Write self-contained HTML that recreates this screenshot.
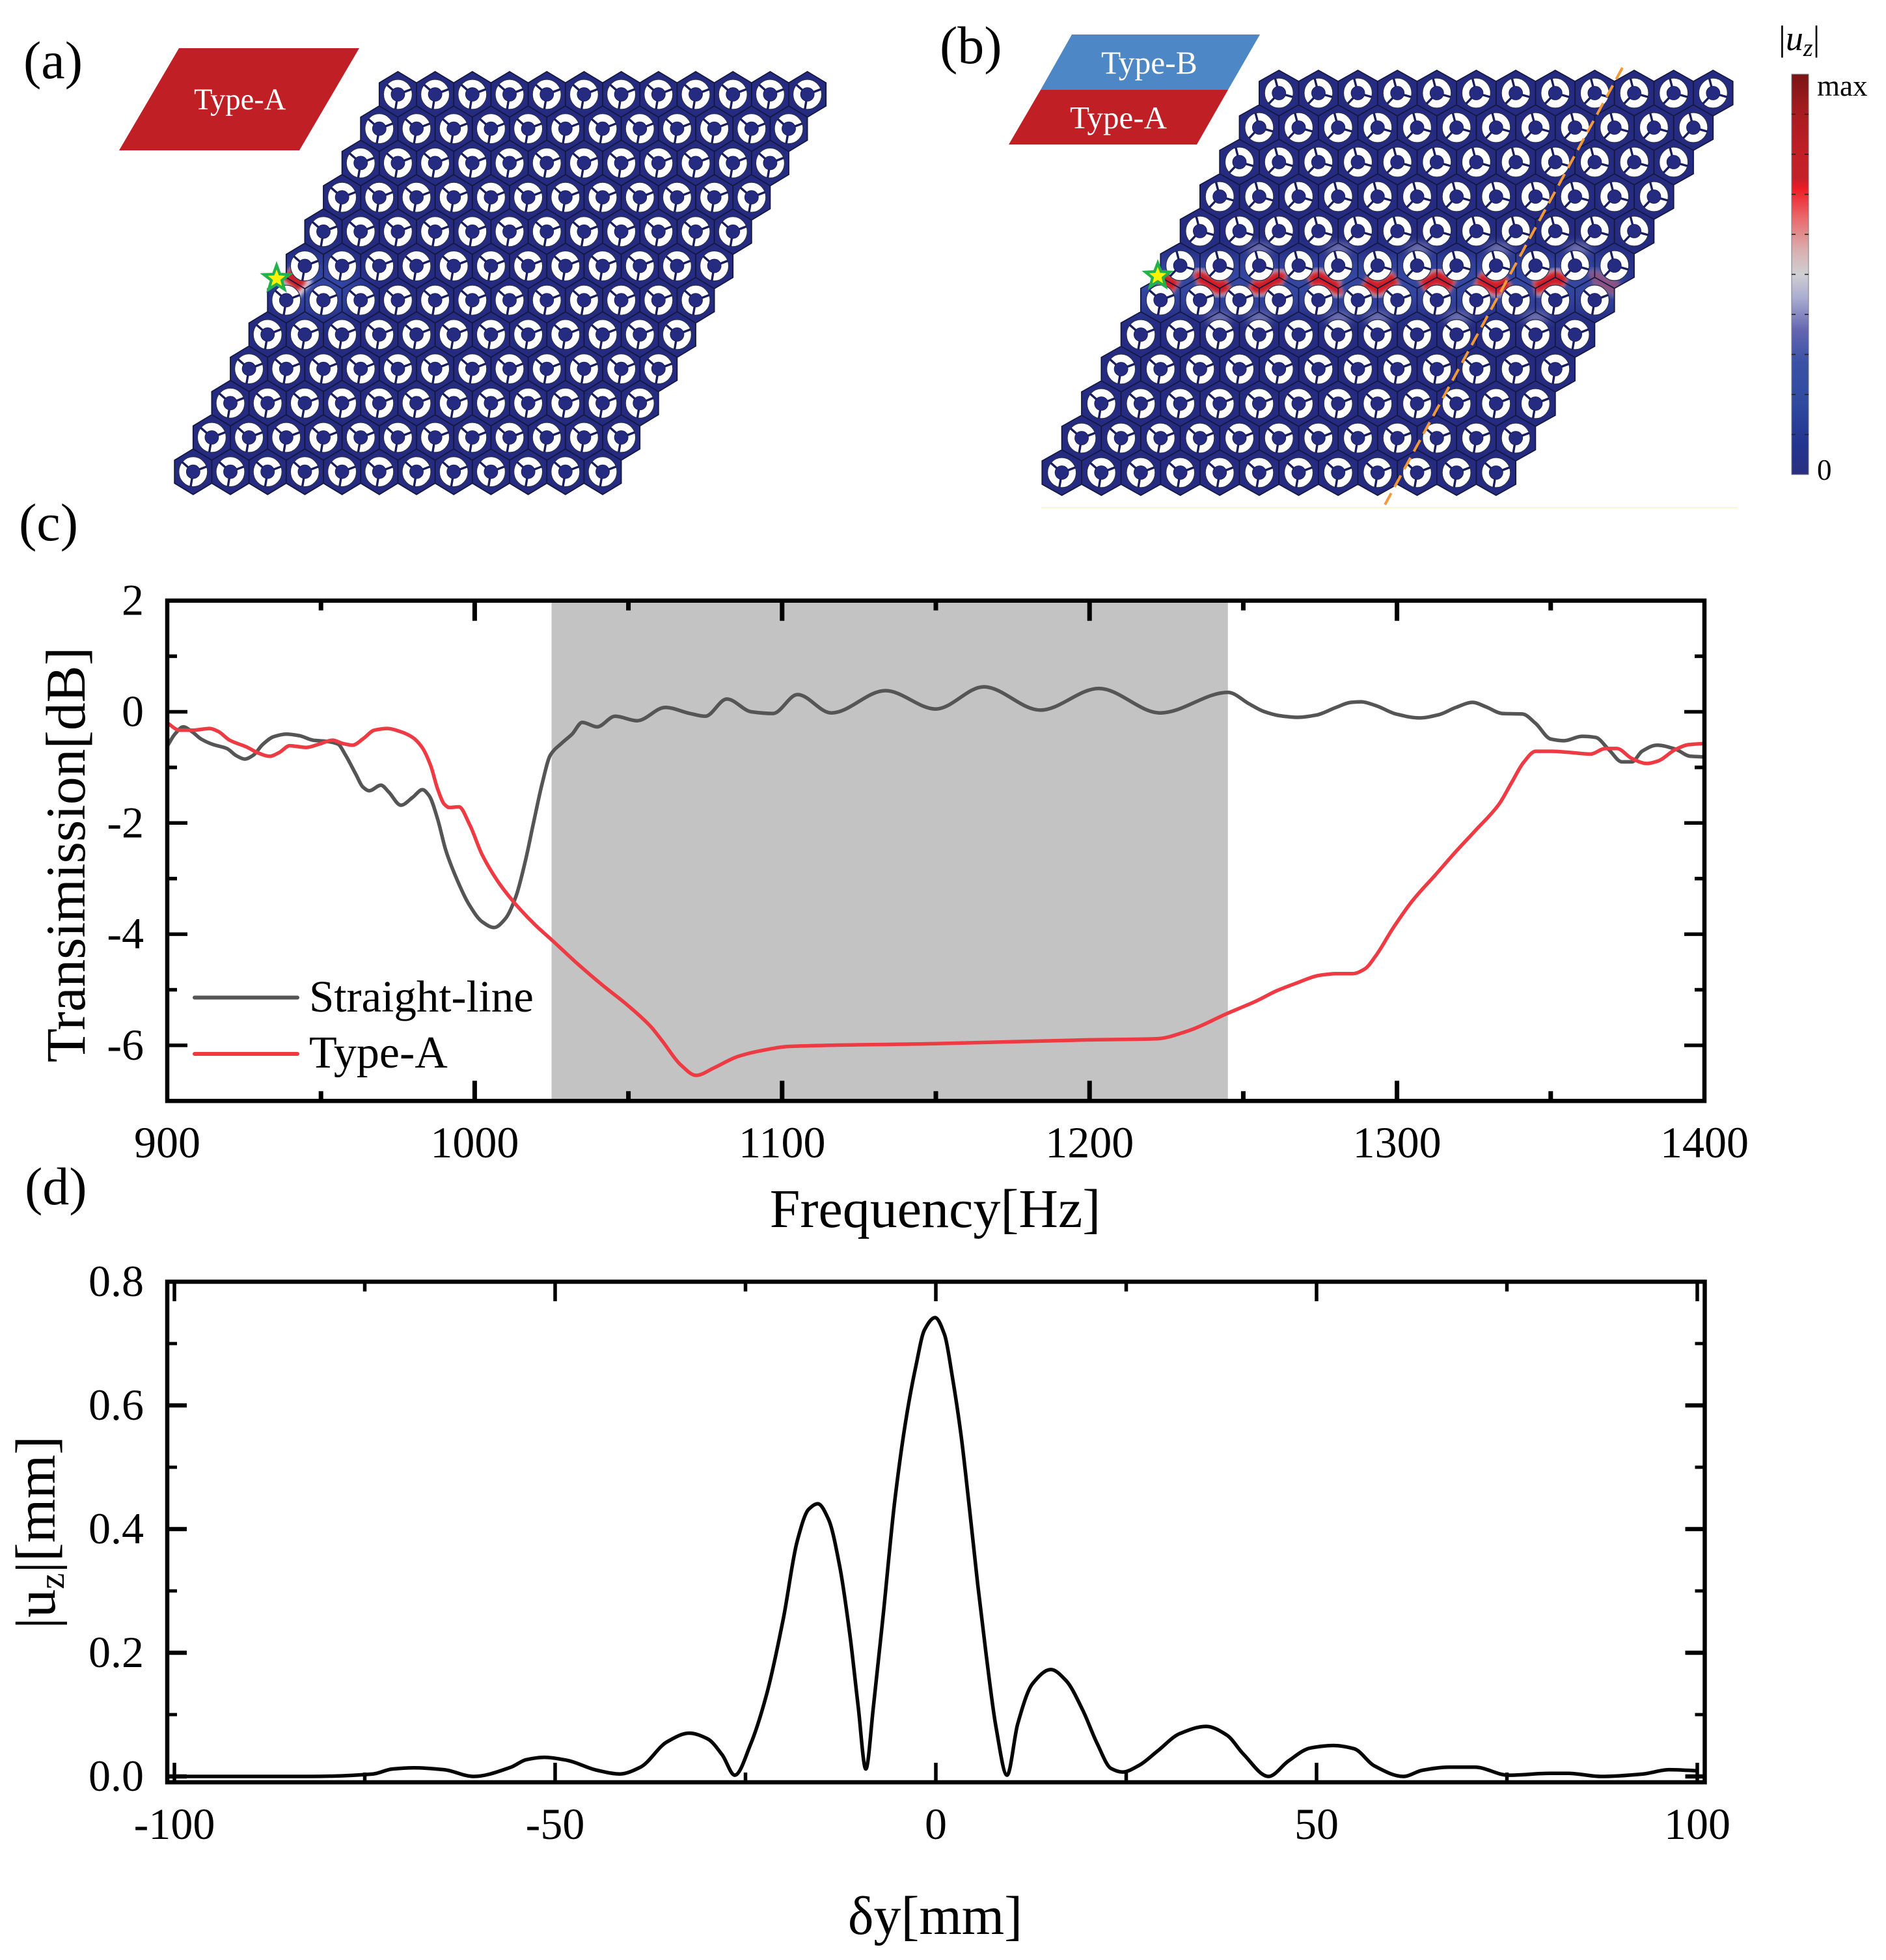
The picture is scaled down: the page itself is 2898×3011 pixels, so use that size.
<!DOCTYPE html>
<html lang="en">
<head>
<meta charset="utf-8">
<title>Type-A / Type-B lattice transmission chart</title>
<style>
html,body{margin:0;padding:0;background:#fff;}
svg{display:block;}
text{font-family:"Liberation Serif",serif;fill:#000;}
</style>
</head>
<body>
<svg id="figure" xmlns="http://www.w3.org/2000/svg" width="2898" height="3011" viewBox="0 0 2898 3011">
<defs>
<filter id="blurHot" x="-50%" y="-100%" width="200%" height="300%"><feGaussianBlur stdDeviation="3.2"/></filter>
<filter id="blurPale" x="-80%" y="-150%" width="260%" height="400%"><feGaussianBlur stdDeviation="7"/></filter>
<filter id="blurGlow" x="-30%" y="-100%" width="160%" height="300%"><feGaussianBlur stdDeviation="16"/></filter>
<linearGradient id="colorbarGrad" x1="0" y1="0" x2="0" y2="1">
<stop offset="0" stop-color="#7a1515"/><stop offset="0.1" stop-color="#a81c20"/><stop offset="0.2" stop-color="#c11f26"/>
<stop offset="0.26" stop-color="#c4202a"/><stop offset="0.285" stop-color="#ed1c24"/><stop offset="0.36" stop-color="#e96a6c"/>
<stop offset="0.44" stop-color="#d9afaf"/><stop offset="0.5" stop-color="#cfcfd2"/><stop offset="0.56" stop-color="#a9abd0"/>
<stop offset="0.64" stop-color="#6366b0"/><stop offset="0.72" stop-color="#3a52a6"/><stop offset="0.82" stop-color="#2f4a9f"/>
<stop offset="0.92" stop-color="#233590"/><stop offset="1" stop-color="#292f80"/>
</linearGradient>
</defs>

<text x="36" y="120" font-size="82">(a)</text>
<text x="1444" y="97" font-size="82">(b)</text>
<text x="29" y="830" font-size="82">(c)</text>
<text x="38" y="1850" font-size="82">(d)</text>

<g>
<polygon points="275,74 552,74 460,231 183,231" fill="#c11f26"/>
<text x="298" y="168" font-size="46.5" style="fill:#fff">Type-A</text>
</g>
<g>
<polygon points="1647,53 1936,53 1887,138 1599,138" fill="#4d87c5"/>
<polygon points="1599,138 1887,138 1839,222 1550,222" fill="#c11f26"/>
<text x="1692" y="113" font-size="49.5" style="fill:#fff">Type-B</text>
<text x="1644" y="197" font-size="49" style="fill:#fff">Type-A</text>
</g>

<g id="latticeA"></g>
<g id="latticeB"></g>

<line x1="1600" y1="780" x2="2670" y2="780" stroke="#fbf6d6" stroke-width="2"/>
<line x1="2493" y1="104" x2="2125" y2="781" stroke="#f29a3a" stroke-width="4" stroke-dasharray="20 11"/>

<g>
<rect x="2753" y="114" width="26" height="615" fill="url(#colorbarGrad)" stroke="#7b7b8a" stroke-width="1"/>
<g id="colorbarTicks"></g>
<text x="2733" y="77" font-size="54"><tspan>|</tspan><tspan font-style="italic">u</tspan><tspan font-style="italic" font-size="38" dy="9">z</tspan><tspan dy="-9">|</tspan></text>
<text x="2792" y="147" font-size="45">max</text>
<text x="2792" y="737" font-size="45">0</text>
</g>

<g id="chartC"></g>
<g id="chartD"></g>
</svg>

<script>
// ---------- Chart (c) data ----------
const grayFreq = [900,902.5,905.2,907.9,911,915,919.4,922.5,925.2,928,931,934.5,938.7,943,947.4,951.7,955.5,958,961.4,963.6,965.7,969.5,972,976,979.8,983,985.2,987.9,990.6,993.8,998.2,1002.5,1006.3,1010,1013.3,1016.5,1019.2,1022,1024.6,1028.4,1031.7,1035,1039.8,1045.7,1052.8,1062,1070,1075,1082,1090,1097,1105,1116,1133.6,1150,1165.6,1184,1203,1223,1245,1252,1256.5,1261.9,1267.8,1273.7,1280.2,1285,1288.3,1293.2,1299.7,1307.3,1313.7,1319.2,1324.6,1328.9,1334.3,1340.8,1345.1,1350,1354.3,1360.2,1364.6,1368.9,1373.2,1376.4,1379.7,1384.6,1390.5,1395.4,1400];
const grayDb = [-0.62,-0.4,-0.27,-0.35,-0.49,-0.59,-0.66,-0.79,-0.85,-0.78,-0.59,-0.45,-0.4,-0.43,-0.51,-0.53,-0.58,-0.78,-1.13,-1.35,-1.42,-1.32,-1.44,-1.68,-1.54,-1.4,-1.51,-1.92,-2.49,-2.96,-3.47,-3.78,-3.88,-3.72,-3.34,-2.68,-1.98,-1.28,-0.78,-0.56,-0.4,-0.19,-0.27,-0.08,-0.16,0.08,-0.03,-0.08,0.23,0,-0.03,0.31,-0.02,0.38,0.05,0.45,0.03,0.42,-0.02,0.35,0.14,0.01,-0.07,-0.1,-0.06,0.08,0.17,0.18,0.11,-0.04,-0.11,-0.05,0.08,0.17,0.09,-0.03,-0.04,-0.21,-0.49,-0.52,-0.44,-0.46,-0.68,-0.9,-0.9,-0.71,-0.6,-0.67,-0.8,-0.81];
const redFreq = [900,904,908.4,913.8,916.5,920.3,925.7,930,933.3,936.5,939.8,945.2,949.5,953.8,957.1,960.3,963.6,967.4,971.7,975.5,979.8,983,985.7,987.9,990.1,991.7,994.9,998.2,1002.5,1007.9,1013.3,1019.8,1025.2,1032.8,1041.4,1050,1057.4,1061,1067,1072,1078,1085.6,1093.7,1102,1150,1200,1222,1232,1245,1254.3,1260.8,1267.3,1274.8,1280.2,1285.6,1289.4,1293.2,1298.6,1305,1312.7,1319.2,1325.6,1333.2,1337.5,1341.3,1345.1,1350.5,1355.9,1362.9,1367.8,1371.5,1376.4,1381.3,1385.1,1390.5,1394.9,1400];
const redDb = [-0.2,-0.33,-0.33,-0.3,-0.35,-0.51,-0.63,-0.75,-0.8,-0.73,-0.61,-0.64,-0.58,-0.51,-0.57,-0.6,-0.49,-0.33,-0.3,-0.35,-0.46,-0.65,-0.97,-1.38,-1.66,-1.72,-1.71,-2.01,-2.58,-3.08,-3.46,-3.84,-4.11,-4.5,-4.91,-5.29,-5.67,-5.92,-6.35,-6.54,-6.4,-6.2,-6.09,-6.02,-5.97,-5.9,-5.88,-5.74,-5.42,-5.2,-5.02,-4.88,-4.74,-4.71,-4.71,-4.63,-4.38,-3.9,-3.4,-2.92,-2.51,-2.13,-1.66,-1.25,-0.9,-0.71,-0.71,-0.73,-0.76,-0.66,-0.66,-0.84,-0.93,-0.88,-0.68,-0.59,-0.57];
const cXTicks = ["900","1000","1100","1200","1300","1400"];
const cYTicks = ["2","0","-2","-4","-6"];
const cBand = [1025,1245];
const cLegendNames = ["Straight-line","Type-A"];

// ---------- Chart (d) data ----------
const offsetMm = [-100,-82.3,-73.9,-71.4,-68.5,-64.6,-60.7,-55.8,-53.8,-51.4,-48.4,-44.5,-41.5,-38.8,-35.3,-32.4,-30,-28.06,-26.4,-24.3,-22.2,-20,-18.2,-16.7,-15.5,-14.1,-12.6,-11.3,-10.2,-9.2,-8.2,-6.9,-5.4,-3.9,-2.6,-1.5,-0.1,1.15,2.2,3.3,4.4,5.5,6.6,7.9,9.35,10.75,12.7,15.1,17.1,19.3,21.2,23,24.5,26.7,29.1,32,35.5,38.2,40.4,43.7,46.3,49.2,52.2,54.9,57.6,61.4,63.9,67.4,70.8,75.2,80.6,83.1,87.3,92.9,96.3,100.2];
const uzMm = [0,0,0.004,0.012,0.014,0.011,0,0.015,0.027,0.031,0.026,0.01,0.004,0.015,0.056,0.07,0.061,0.035,0.002,0.053,0.134,0.257,0.381,0.432,0.441,0.416,0.338,0.23,0.113,0.012,0.113,0.263,0.445,0.579,0.665,0.722,0.742,0.714,0.644,0.553,0.435,0.311,0.198,0.08,0.002,0.085,0.15,0.173,0.155,0.107,0.053,0.013,0.007,0.018,0.041,0.069,0.081,0.067,0.036,0,0.025,0.046,0.05,0.045,0.017,0,0.01,0.015,0.015,0.002,0.005,0.005,0,0.004,0.011,0.009];
const dXTicks = ["-100","-50","0","50","100"];
const dYTicks = ["0.0","0.2","0.4","0.6","0.8"];

const NS = "http://www.w3.org/2000/svg";
function make(tag, parent, attrs){
  const el = document.createElementNS(NS, tag);
  for(const k in attrs) el.setAttribute(k, attrs[k]);
  parent.appendChild(el);
  return el;
}
// Monotone cubic interpolation through x-sorted points
function smooth(pts){
  const n=pts.length, h=[], s=[], m=[];
  for(let i=0;i<n-1;i++){
    h[i]=pts[i+1][0]-pts[i][0];
    s[i]=(pts[i+1][1]-pts[i][1])/h[i];
  }
  m[0]=s[0]; m[n-1]=s[n-2];
  for(let i=1;i<n-1;i++){
    if(s[i-1]*s[i]<=0){ m[i]=0; }
    else{
      const w1=2*h[i]+h[i-1], w2=h[i]+2*h[i-1];
      m[i]=(w1+w2)/(w1/s[i-1]+w2/s[i]);
    }
  }
  let d="M"+pts[0][0].toFixed(1)+" "+pts[0][1].toFixed(1);
  for(let i=0;i<n-1;i++){
    const c1x=pts[i][0]+h[i]/3, c1y=pts[i][1]+m[i]*h[i]/3;
    const c2x=pts[i+1][0]-h[i]/3, c2y=pts[i+1][1]-m[i+1]*h[i]/3;
    d+=" C"+c1x.toFixed(1)+" "+c1y.toFixed(1)+" "+c2x.toFixed(1)+" "+c2y.toFixed(1)+" "+pts[i+1][0].toFixed(1)+" "+pts[i+1][1].toFixed(1);
  }
  return d;
}

// ---------- Chart (c) ----------
(function(){
  const g = document.getElementById("chartC");
  const X = f => 257 + 4.724*(f-900);
  const Y = v => 1093.5 - 85.4*v;
  const left=X(900), right=X(1400), top=Y(2), bottom=Y(-7);

  const band = make("rect", g, {x:X(cBand[0]), y:top, width:X(cBand[1])-X(cBand[0]), height:bottom-top, fill:"#c3c3c3"});
  
  

  const grayPts = grayFreq.map((f,i)=>[X(f),Y(grayDb[i])]);
  const redPts = redFreq.map((f,i)=>[X(f),Y(redDb[i])]);
  const grayLine = make("path", g, {d:smooth(grayPts), fill:"none", stroke:"#555555", "stroke-width":5.5, "stroke-linejoin":"round"});
  
  
  const redLine = make("path", g, {d:smooth(redPts), fill:"none", stroke:"#ee3a43", "stroke-width":5.5, "stroke-linejoin":"round"});
  
  

  const frame = make("rect", g, {x:left, y:top, width:right-left, height:bottom-top, fill:"none", stroke:"#000", "stroke-width":6.5});
  
  

  for(let f=900; f<=1400; f+=50){
    const major = (f%100===0);
    const len = major?31:15;
    if(f===900||f===1400) continue;
    const t1 = make("line", g, {x1:X(f),x2:X(f),y1:bottom,y2:bottom-len,stroke:"#000","stroke-width":7});
    
    
    const t2 = make("line", g, {x1:X(f),x2:X(f),y1:top,y2:top+len,stroke:"#000","stroke-width":7});
    
    
  }
  for(let v=-6; v<=1; v+=1){
    const major = (v%2===0);
    const len = major?31:15;
    const t1 = make("line", g, {x1:left,x2:left+len,y1:Y(v),y2:Y(v),stroke:"#000","stroke-width":5.5});
    
    
    const t2 = make("line", g, {x1:right,x2:right-len,y1:Y(v),y2:Y(v),stroke:"#000","stroke-width":5.5});
    
    
  }
  cXTicks.forEach(function(s){
    const t = make("text", g, {x:X(+s), y:1778, "font-size":68, "text-anchor":"middle"});
    t.textContent = s;
    
    
  });
  cYTicks.forEach(function(s){
    const t = make("text", g, {x:221, y:Y(+s)+22, "font-size":68, "text-anchor":"end"});
    t.textContent = s;
    
    
  });
  const xt = make("text", g, {x:1437, y:1885, "font-size":84, "text-anchor":"middle"});
  xt.textContent = "Frequency[Hz]";
  
  
  const yt = make("text", g, {x:0, y:0, "font-size":85.5, "text-anchor":"middle", transform:"translate(130 1313) rotate(-90)"});
  yt.textContent = "Transimission[dB]";
  
  

  const l1 = make("line", g, {x1:299,x2:457,y1:1532.5,y2:1532.5,stroke:"#555555","stroke-width":6,"stroke-linecap":"round"});
  
  
  const l2 = make("line", g, {x1:299,x2:457,y1:1619,y2:1619,stroke:"#ee3a43","stroke-width":6,"stroke-linecap":"round"});
  
  
  const lt1 = make("text", g, {x:475, y:1554, "font-size":69});
  lt1.textContent = cLegendNames[0];
  
  
  const lt2 = make("text", g, {x:475, y:1640, "font-size":70});
  lt2.textContent = cLegendNames[1];
  
  
})();

// ---------- Chart (d) ----------
(function(){
  const g = document.getElementById("chartD");
  const X = d => 1438 + 11.7*d;
  const Y = u => 2729 - 950*u;
  const left=257, right=2619.5, top=Y(0.8), bottom=2738;

  const curve = make("path", g, {d:smooth(offsetMm.map((m,i)=>[X(m),Y(uzMm[i])])), fill:"none", stroke:"#050505", "stroke-width":5.5, "stroke-linejoin":"round"});
  
  

  const frame = make("rect", g, {x:left, y:top, width:right-left, height:bottom-top, fill:"none", stroke:"#000", "stroke-width":6.5});
  
  

  for(let m=-100; m<=100; m+=25){
    const major = (m%50===0);
    const len = major?30:15;
    const t1 = make("line", g, {x1:X(m),x2:X(m),y1:bottom,y2:bottom-len,stroke:"#000","stroke-width":5.5});
    
    
    const t2 = make("line", g, {x1:X(m),x2:X(m),y1:top,y2:top+len,stroke:"#000","stroke-width":5.5});
    
    
  }
  for(let k=0; k<=7; k+=1){
    const u = k/10;
    const major = (k%2===0);
    const len = major?30:15;
    const th = major?6.5:5;
    const t1 = make("line", g, {x1:left,x2:left+len,y1:Y(u),y2:Y(u),stroke:"#000","stroke-width":th});
    
    
    const t2 = make("line", g, {x1:right,x2:right-len,y1:Y(u),y2:Y(u),stroke:"#000","stroke-width":th});
    
    
  }
  dXTicks.forEach(function(s){
    const t = make("text", g, {x:X(+s), y:2825, "font-size":68, "text-anchor":"middle"});
    t.textContent = s;
    
    
  });
  dYTicks.forEach(function(s){
    const t = make("text", g, {x:221, y:Y(+s)+22, "font-size":68, "text-anchor":"end"});
    t.textContent = s;
    
    
  });
  const xt = make("text", g, {x:1437, y:2971, "font-size":84, "text-anchor":"middle"});
  xt.textContent = "δy[mm]";
  
  
  const yt = make("text", g, {x:0, y:0, "font-size":87, "text-anchor":"middle", transform:"translate(84 2354) rotate(-90)"});
  
  
  make("tspan", yt, {}).textContent = "|u";
  make("tspan", yt, {"font-size":56, dy:14}).textContent = "z";
  make("tspan", yt, {dy:-14}).textContent = "|[mm]";
})();

// ---------- Colorbar ticks ----------
(function(){
  const g = document.getElementById("colorbarTicks");
  for(let i=1;i<=9;i++){
    const y = 114 + i*61.5;
    const a = make("line", g, {x1:2753,x2:2759,y1:y,y2:y,stroke:"#222","stroke-width":1.6});
    
    
    const b = make("line", g, {x1:2773,x2:2779,y1:y,y2:y,stroke:"#222","stroke-width":1.6});
    
    
  }
})();

// ---------- Lattices ----------
function buildLattice(g, cfg){
  const RV=35, rows=12, cols=12;
  const clipId = cfg.id+"Clip";
  const W=cfg.dx;
  let hexD="";
  const cells=[];
  for(let r=0;r<rows;r++){
    for(let c=0;c<cols;c++){
      const cx=cfg.x0 - r*W/2 + c*W, cy=cfg.y0 + r*cfg.dy;
      const s=cfg.dy-RV;
      hexD+="M"+cx.toFixed(1)+" "+(cy-RV).toFixed(1)+
        "L"+(cx+W/2).toFixed(1)+" "+(cy-s).toFixed(1)+
        "L"+(cx+W/2).toFixed(1)+" "+(cy+s).toFixed(1)+
        "L"+cx.toFixed(1)+" "+(cy+RV).toFixed(1)+
        "L"+(cx-W/2).toFixed(1)+" "+(cy+s).toFixed(1)+
        "L"+(cx-W/2).toFixed(1)+" "+(cy-s).toFixed(1)+"Z";
      cells.push({cx,cy,r,c});
    }
  }
  const defs=make("clipPath", g, {id:clipId});
  make("path", defs, {d:hexD});

  const base=make("path", g, {d:hexD, fill:"#242b81"});
  
  

  const field=make("g", g, {"clip-path":"url(#"+clipId+")"});
  
  
  cfg.paint(field);

  const edges=make("path", g, {d:hexD, fill:"none", stroke:"#14183f", "stroke-width":1.8});
  
  

  cells.forEach(function(cell){
    const cg=make("g", g, {transform:"translate("+cell.cx.toFixed(1)+" "+cell.cy.toFixed(1)+")"});
    
    
    make("ellipse", cg, {rx:22, ry:23, fill:"#fff", stroke:"#2a2f4c", "stroke-width":1.2});
    const base=cfg.angleFor(cell.r);
    for(let k=0;k<3;k++){
      const a=(base+120*k)*Math.PI/180;
      make("line", cg, {x1:0,y1:0,x2:(22*Math.cos(a)).toFixed(1),y2:(-23*Math.sin(a)).toFixed(1),stroke:"#181d60","stroke-width":3.4});
    }
    make("circle", cg, {r:10.4, fill:"#242b81", stroke:"#181d60", "stroke-width":1});
  });
}
function star(g, cx, cy, R, r, fill){
  let p=[];
  for(let i=0;i<10;i++){
    const a=-Math.PI/2+i*Math.PI/5, q=i%2?r:R;
    p.push((cx+q*Math.cos(a)).toFixed(1)+","+(cy+q*Math.sin(a)).toFixed(1));
  }
  return make("polygon", g, {points:p.join(" "), fill:fill});
}

buildLattice(document.getElementById("latticeA"), {
  id:"lattice-a", x0:611.4, y0:145, dx:57.2, dy:52.7,
  angleFor:function(){return 20;},
  paint:function(f){
    const glow=make("ellipse", f, {cx:490, cy:440, rx:70, ry:45, fill:"#3d5cc0", "fill-opacity":0.5, filter:"url(#blurGlow)"});
    
    
    const pale=make("line", f, {x1:440,y1:420,x2:470,y2:445,stroke:"#e9e6f2","stroke-width":32,filter:"url(#blurHot)"});
    
    
    const hot=make("line", f, {x1:440,y1:420,x2:465,y2:441,stroke:"#c8202a","stroke-width":22,filter:"url(#blurHot)"});
    
    
  }
});
const starA1=star(document.getElementById("latticeA"),425,428,27,11,"#22b24c");


const starA2=star(document.getElementById("latticeA"),425,428,14,6,"#fff200");



buildLattice(document.getElementById("latticeB"), {
  id:"lattice-b", x0:1965.2, y0:143, dx:60.65, dy:53,
  angleFor:function(r){return r<6?-15:20;},
  paint:function(f){
    const band=make("rect", f, {x:1700,y:395,width:800,height:80,fill:"#3f5cba","fill-opacity":0.55,filter:"url(#blurGlow)"});
    
    
    const rowX=1965.2-5*30.325, rowY=143+5*53;
    const zig=function(x){
      const t=(x-rowX)/60.65, fr=t-Math.floor(t);
      const d=fr<0.5?fr*2:(1-fr)*2;
      return rowY+35-d*17;
    };
    [[1838,1887,1],[1923,1973,1],[2013,2060,1],[2097,2145,1],[2185,2232,1],[2271,2318,1],[2358,2405,1],[2445,2490,0.35],[1785,1808,1]].forEach(function(h){
      const pts=[];
      for(let i=0;i<=10;i++){const x=h[0]+(h[1]-h[0])*i/10; pts.push(x.toFixed(1)+","+zig(x).toFixed(1));}
      const halo=make("polyline", f, {points:pts.join(" "),fill:"none",stroke:"#eadfe6","stroke-width":28,"stroke-opacity":0.8*h[2],filter:"url(#blurHot)"});
      
      
      const hot=make("polyline", f, {points:pts.join(" "),fill:"none",stroke:"#d01f28","stroke-width":20,"stroke-opacity":h[2],filter:"url(#blurHot)"});
      
      
    });
    [[1873,488],[1935,488],[2057,488],[2117,488],[2240,488],[2360,488],[1935,382],[2057,382],[2180,382],[2303,382],[2425,382]].forEach(function(p){
      const e=make("ellipse", f, {cx:p[0],cy:p[1],rx:20,ry:7,fill:"#cfc8e2","fill-opacity":0.6,filter:"url(#blurPale)"});
      
      
    });
  }
});
const starB1=star(document.getElementById("latticeB"),1779,424,26,11,"#22b24c");


const starB2=star(document.getElementById("latticeB"),1779,424,14,6,"#fff200");


</script>
</body>
</html>
